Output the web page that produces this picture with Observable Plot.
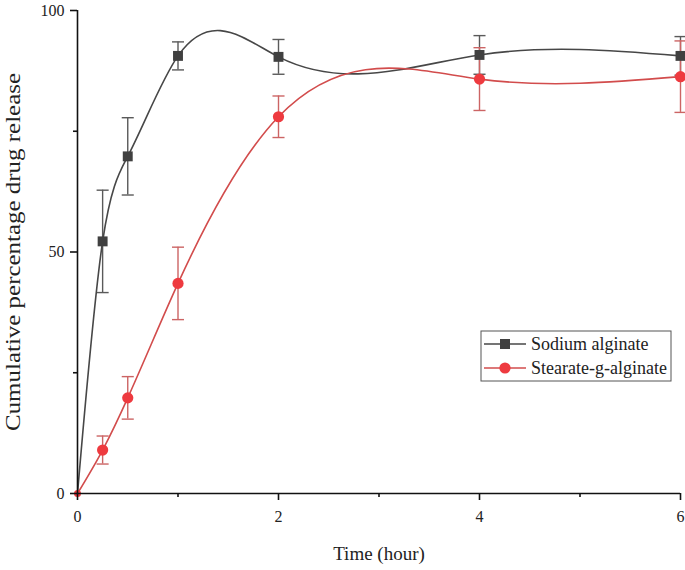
<!DOCTYPE html>
<html>
<head>
<meta charset="utf-8">
<script src="https://cdn.jsdelivr.net/npm/d3@7"></script>
<script src="https://cdn.jsdelivr.net/npm/@observablehq/plot@0.6"></script>
<style>
  html, body { margin: 0; padding: 0; background: #fff; }
  #chart { position: relative; width: 685px; height: 570px; }
  #chart svg text { font-family: "Liberation Serif", "Times New Roman", serif; }
</style>
</head>
<body>
<div id="chart"></div>
<script>
// ---- data ----
const time = [0, 0.25, 0.5, 1, 2, 4, 6];
const sodiumMean = [0, 52.2, 69.8, 90.6, 90.4, 90.8, 90.6];
const sodiumErr  = [0, 10.6, 8.0, 2.9, 3.6, 4.0, 4.0];
const stearateMean = [0, 9.0, 19.8, 43.5, 78.0, 85.8, 86.3];
const stearateErr  = [0, 2.9, 4.4, 7.5, 4.3, 6.5, 7.4];
const seriesNames = ["Sodium alginate", "Stearate-g-alginate"];
const xTicks = [0, 2, 4, 6];
const xMinorTicks = [1, 3, 5];
const yTicks = [0, 50, 100];
const yMinorTicks = [25, 75];
const xLabel = "Time (hour)";
const yLabel = "Cumulative percentage drug release";

const colBlackLine = "#474747", colBlackDot = "#404040", colBlackErr = "#5a5a5a";
const colRedLine = "#d24c4c", colRedDot = "#ee3a3f", colRedErr = "#cc6464";
const FONT = '"Liberation Serif", "Times New Roman", serif';

const sodium = time.map((t, i) => ({x: t, y: sodiumMean[i], e: sodiumErr[i]}));
const stearate = time.map((t, i) => ({x: t, y: stearateMean[i], e: stearateErr[i]}));
const capHalf = 0.06;

// Custom curve: natural cubic spline of y as a function of x (like Origin's spline connector)
function splineYofX(context) {
  let pts;
  return {
    areaStart() {}, areaEnd() {},
    lineStart() { pts = []; },
    point(x, y) { pts.push([+x, +y]); },
    lineEnd() {
      const n = pts.length;
      if (n === 0) return;
      context.moveTo(pts[0][0], pts[0][1]);
      if (n < 3) { for (let i = 1; i < n; i++) context.lineTo(pts[i][0], pts[i][1]); return; }
      const X = pts.map(p => p[0]), Y = pts.map(p => p[1]);
      const h = [];
      for (let i = 0; i < n - 1; i++) h.push(X[i + 1] - X[i]);
      const M = new Array(n).fill(0);
      const a = [], b = [], c = [], d = [];
      for (let i = 1; i < n - 1; i++) {
        a.push(h[i - 1]); b.push(2 * (h[i - 1] + h[i])); c.push(h[i]);
        d.push(6 * ((Y[i + 1] - Y[i]) / h[i] - (Y[i] - Y[i - 1]) / h[i - 1]));
      }
      const m = b.length;
      for (let i = 1; i < m; i++) {
        const w = a[i] / b[i - 1];
        b[i] -= w * c[i - 1]; d[i] -= w * d[i - 1];
      }
      const sol = new Array(m);
      sol[m - 1] = d[m - 1] / b[m - 1];
      for (let i = m - 2; i >= 0; i--) sol[i] = (d[i] - c[i] * sol[i + 1]) / b[i];
      for (let i = 0; i < m; i++) M[i + 1] = sol[i];
      for (let i = 0; i < n - 1; i++) {
        const hi = h[i], s = (Y[i + 1] - Y[i]) / hi;
        const m0 = s - hi * (2 * M[i] + M[i + 1]) / 6;
        const m1 = s + hi * (M[i] + 2 * M[i + 1]) / 6;
        context.bezierCurveTo(X[i] + hi / 3, Y[i] + m0 * hi / 3, X[i + 1] - hi / 3, Y[i + 1] - m1 * hi / 3, X[i + 1], Y[i + 1]);
      }
    }
  };
}

function errMarks(data, color) {
  const d = data.filter(p => p.e > 0);
  return [
    Plot.ruleX(d, {x: "x", y1: p => p.y - p.e, y2: p => p.y + p.e, stroke: color, strokeWidth: 1.4}),
    Plot.link(d, {x1: p => p.x - capHalf, x2: p => p.x + capHalf, y1: p => p.y + p.e, y2: p => p.y + p.e, stroke: color, strokeWidth: 1.4}),
    Plot.link(d, {x1: p => p.x - capHalf, x2: p => p.x + capHalf, y1: p => p.y - p.e, y2: p => p.y - p.e, stroke: color, strokeWidth: 1.4})
  ];
}

const plot = Plot.plot({
  width: 685,
  height: 570,
  marginLeft: 77,
  marginRight: 5,
  marginTop: 10,
  marginBottom: 77,
  style: {fontFamily: FONT, fontSize: "16px", color: "#222", background: "#fff"},
  x: {domain: [0, 6]},
  y: {domain: [0, 100]},
  marks: [
    ...errMarks(sodium, colBlackErr),
    ...errMarks(stearate, colRedErr),
    Plot.line(sodium, {x: "x", y: "y", curve: splineYofX, stroke: colBlackLine, strokeWidth: 1.6}),
    Plot.line(stearate, {x: "x", y: "y", curve: splineYofX, stroke: colRedLine, strokeWidth: 1.6}),
    Plot.dot(sodium.filter(p => p.x > 0), {x: "x", y: "y", symbol: "square", r: 5.6, fill: colBlackDot, stroke: "none"}),
    Plot.dot(stearate.filter(p => p.x > 0), {x: "x", y: "y", symbol: "circle", r: 5.6, fill: colRedDot, stroke: "none"}),
    Plot.dot(stearate.filter(p => p.x === 0), {x: "x", y: "y", symbol: "circle", r: 3.5, fill: colRedDot, stroke: "none"}),
    Plot.ruleY([0], {stroke: "#111", strokeWidth: 1.6}),
    Plot.ruleX([0], {y1: 0, y2: 100, stroke: "#111", strokeWidth: 1.6}),
    Plot.axisX({ticks: xTicks, tickSize: 7, tickPadding: 10, tickFormat: d => String(d), label: xLabel, labelAnchor: "center", labelArrow: "none", labelOffset: 66, fontSize: 16, strokeWidth: 1.6, stroke: "#111"}),
    Plot.axisX({ticks: xMinorTicks, tickSize: 4, tickFormat: () => "", label: null, strokeWidth: 1.6, stroke: "#111"}),
    Plot.axisY({ticks: yTicks, tickSize: 7, tickPadding: 6, tickFormat: d => String(d), label: yLabel, labelAnchor: "center", labelArrow: "none", labelOffset: 72, fontSize: 16, strokeWidth: 1.6, stroke: "#111"}),
    Plot.axisY({ticks: yMinorTicks, tickSize: 4, tickFormat: () => "", label: null, strokeWidth: 1.6, stroke: "#111"})
  ]
});
document.getElementById("chart").appendChild(plot);

const svg = d3.select(plot);
// axis label sizing
svg.selectAll('g[aria-label="x-axis label"] text').attr("font-size", 19);
svg.selectAll('g[aria-label="y-axis label"] text').attr("font-size", 20)
  .attr("textLength", 358).attr("lengthAdjust", "spacingAndGlyphs");

// ---- legend (drawn inside the SVG) ----
const lg = svg.append("g").attr("transform", "translate(481,331)").attr("text-anchor", "start");
lg.append("rect").attr("width", 190).attr("height", 50).attr("fill", "#fff").attr("stroke", "#555").attr("stroke-width", 1);
const rows = [
  {name: seriesNames[0], line: colBlackLine, dot: colBlackDot, sym: "square"},
  {name: seriesNames[1], line: colRedLine, dot: colRedDot, sym: "circle"}
];
rows.forEach((r, i) => {
  const yy = 13 + i * 24;
  lg.append("line").attr("x1", 3).attr("x2", 45).attr("y1", yy).attr("y2", yy).attr("stroke", r.line).attr("stroke-width", 1.6);
  if (r.sym === "square") {
    lg.append("rect").attr("x", 19).attr("y", yy - 5).attr("width", 10).attr("height", 10).attr("fill", r.dot);
  } else {
    lg.append("circle").attr("cx", 24).attr("cy", yy).attr("r", 5.6).attr("fill", r.dot);
  }
  lg.append("text").attr("x", 50).attr("y", yy).attr("dy", "0.35em")
    .attr("font-size", 18).attr("fill", "#222")
    .text(r.name);
});
</script>
</body>
</html>
